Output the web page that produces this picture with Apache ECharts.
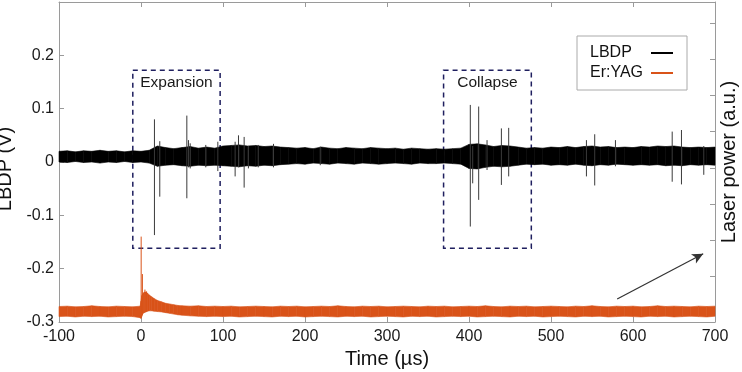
<!DOCTYPE html>
<html lang="en">
<head>
<meta charset="utf-8">
<title>LBDP / Er:YAG</title>
<script src="https://cdn.jsdelivr.net/npm/echarts@6/dist/echarts.min.js"></script>
<style>
html, body { margin: 0; padding: 0; background: #fff; }
#main { width: 742px; height: 372px; }
</style>
</head>
<body>
<div id="main"></div>
<script>
// LBDP noise band (V), upper / lower edge every 10 us
var lbdpTime = [-100,-90,-80,-70,-60,-50,-40,-30,-20,-10,0,10,20,30,40,50,60,70,80,90,
  100,110,120,130,140,150,160,170,180,190,200,210,220,230,240,250,260,270,280,290,
  300,310,320,330,340,350,360,370,380,390,400,410,420,430,440,450,460,470,480,490,
  500,510,520,530,540,550,560,570,580,590,600,610,620,630,640,650,660,670,680,690,700];
var lbdpHigh = [0.020,0.021,0.019,0.021,0.020,0.022,0.020,0.021,0.019,0.021,0.020,0.022,0.030,0.027,0.025,0.027,0.029,0.026,0.028,0.026,
  0.030,0.031,0.032,0.030,0.031,0.029,0.030,0.028,0.027,0.026,0.027,0.025,0.028,0.026,0.025,0.027,0.026,0.025,0.027,0.026,
  0.025,0.026,0.024,0.026,0.025,0.024,0.025,0.024,0.025,0.026,0.033,0.034,0.032,0.029,0.031,0.030,0.028,0.026,0.027,0.026,
  0.028,0.027,0.029,0.027,0.029,0.030,0.028,0.029,0.027,0.028,0.027,0.029,0.028,0.030,0.029,0.030,0.028,0.027,0.028,0.027,0.028];
var lbdpLow = [0.000,-0.001,0.001,-0.001,0.000,-0.002,0.000,-0.001,0.001,-0.001,0.000,-0.002,-0.008,-0.006,-0.005,-0.007,-0.008,-0.006,-0.007,-0.006,
  -0.007,-0.008,-0.009,-0.007,-0.008,-0.006,-0.007,-0.005,-0.004,-0.003,-0.004,-0.002,-0.003,-0.004,-0.002,-0.003,-0.004,-0.002,-0.003,-0.004,
  -0.003,-0.002,-0.003,-0.004,-0.002,-0.003,-0.003,-0.002,-0.003,-0.004,-0.012,-0.013,-0.010,-0.008,-0.009,-0.008,-0.006,-0.004,-0.005,-0.004,
  -0.006,-0.005,-0.006,-0.004,-0.006,-0.007,-0.005,-0.006,-0.004,-0.005,-0.006,-0.005,-0.006,-0.005,-0.007,-0.006,-0.007,-0.005,-0.006,-0.005,-0.006];
// LBDP transients: [time, min, max]
var lbdpSpikes = [[16.4,-0.137,0.080],[22.9,-0.065,0.039],[55.9,-0.068,0.087],[57.9,-0.010,0.041],[60,-0.012,0.035],
  [79,-0.010,0.032],[93.7,-0.017,0.038],[114.8,-0.027,0.038],[118.9,-0.010,0.050],[125.8,-0.048,0.047],
  [131,-0.012,0.030],[143,-0.010,0.032],[161.6,-0.010,0.034],[218.6,-0.006,0.029],[401.6,-0.121,0.107],
  [404.5,-0.040,0.030],[411.8,-0.071,0.104],[422,-0.015,0.041],[439.5,-0.043,0.063],[448.4,-0.027,0.064],
  [543.2,-0.027,0.041],[553.3,-0.044,0.052],[578.6,-0.008,0.041],[647.8,-0.037,0.057],[659.1,-0.042,0.060],
  [686.3,-0.024,0.030]];

// Er:YAG laser power band (a.u.)
var erTime = [-100,-90,-80,-70,-60,-50,-40,-30,-20,-10,-1,0,1,2,3,4,6,8,10,13,16,20,25,30,35,40,45,50,
  60,70,80,90,100,110,120,130,140,150,160,170,180,190,200,210,220,230,240,250,260,270,280,290,
  300,310,320,330,340,350,360,370,380,390,400,410,420,430,440,450,460,470,480,490,
  500,510,520,530,540,550,560,570,580,590,600,610,620,630,640,650,660,670,680,690,700];
var erHigh = [0.15,0.16,0.14,0.15,0.17,0.15,0.14,0.16,0.15,0.14,
  0.16,0.30,0.45,0.50,0.52,0.55,0.55,0.52,
  0.47,0.42,0.37,0.32,0.28,0.24,0.22,0.20,0.18,0.17,
  0.16,0.17,0.15,0.16,0.15,0.16,0.14,0.15,0.16,0.15,
  0.14,0.16,0.15,0.16,0.14,0.15,0.16,0.15,0.17,0.15,
  0.14,0.16,0.15,0.16,0.14,0.15,0.16,0.15,0.14,0.16,
  0.15,0.16,0.14,0.15,0.16,0.15,0.17,0.15,0.14,0.16,
  0.15,0.16,0.14,0.15,0.16,0.15,0.14,0.16,0.15,0.17,
  0.15,0.14,0.16,0.15,0.16,0.14,0.15,0.17,0.15,0.16,
  0.15,0.14,0.16,0.15,0.16];
var erLow = [-0.13,-0.12,-0.14,-0.12,-0.13,-0.12,-0.14,-0.13,-0.12,-0.13,
  -0.16,-0.18,-0.12,-0.06,-0.03,-0.02,0.00,0.02,
  0.03,0.03,0.02,0.01,0.00,-0.02,-0.04,-0.06,-0.08,-0.09,
  -0.11,-0.12,-0.13,-0.12,-0.13,-0.12,-0.14,-0.13,-0.12,-0.13,
  -0.14,-0.12,-0.13,-0.12,-0.14,-0.13,-0.12,-0.13,-0.14,-0.12,
  -0.13,-0.12,-0.14,-0.13,-0.12,-0.13,-0.14,-0.12,-0.13,-0.12,
  -0.14,-0.13,-0.12,-0.13,-0.12,-0.14,-0.13,-0.12,-0.13,-0.14,
  -0.12,-0.13,-0.12,-0.14,-0.13,-0.12,-0.13,-0.14,-0.12,-0.13,
  -0.12,-0.14,-0.13,-0.12,-0.13,-0.14,-0.12,-0.13,-0.12,-0.14,
  -0.13,-0.12,-0.13,-0.14,-0.12];
var erSpikes = [[0.2,-0.16,2.09],[1.7,-0.08,1.05],[4.8,0.00,0.62],[6.8,0.02,0.57]];

// right axis tick positions (a.u.)
var powerTicks = [0,1,2,3,4,5,6,7,8];

// annotation boxes: [name, t0, t1, vTop, vBottom]
var boxes = [['Expansion',-10,96.5,0.172,-0.1615],['Collapse',369,476,0.172,-0.1615]];
var arrowFrom = [580.7,-0.257];
var arrowTo = [685.6,-0.172];

var BLACK = '#000000';
var ORANGE = '#d95319';
var AXIS = '#9a9a9a';

// one row per band segment: [t0, lo0, hi0, t1, lo1, hi1]
function bandRows(t, lo, hi) {
  var out = [];
  for (var i = 0; i < t.length - 1; i++) {
    out.push([t[i], lo[i], hi[i], t[i + 1], lo[i + 1], hi[i + 1]]);
  }
  return out;
}
function bandItem(color) {
  return function (params, api) {
    var a = api.coord([api.value(0), api.value(2)]);
    var b = api.coord([api.value(3), api.value(5)]);
    var c = api.coord([api.value(3), api.value(4)]);
    var d = api.coord([api.value(0), api.value(1)]);
    return {
      type: 'polygon',
      shape: { points: [a, b, c, d] },
      style: { fill: color, stroke: color, lineWidth: 0.6 }
    };
  };
}
function spikeItem(color) {
  return function (params, api) {
    var a = api.coord([api.value(0), api.value(1)]);
    var b = api.coord([api.value(0), api.value(2)]);
    return {
      type: 'line',
      shape: { x1: a[0], y1: a[1], x2: b[0], y2: b[1] },
      style: { stroke: color, lineWidth: 1 }
    };
  };
}

var myChart = echarts.init(document.getElementById('main'), null, { renderer: 'canvas' });

var option = {
  animation: false,
  backgroundColor: '#fff',
  textStyle: { fontFamily: 'Liberation Sans, Arial, sans-serif' },
  grid: { left: 59, right: 27, top: 2, bottom: 50, containLabel: false, outerBoundsMode: 'none' },
  legend: {
    data: ['LBDP', 'Er:YAG'],
    orient: 'vertical',
    align: 'right',
    left: 577,
    top: 36,
    padding: [7, 14, 7, 13],
    itemGap: 0,
    itemWidth: 22,
    itemHeight: 2,
    icon: 'rect',
    borderColor: '#aaa',
    borderWidth: 1,
    backgroundColor: '#fff',
    selectedMode: false,
    formatter: function (name) { return '{a|' + name + '}'; },
    textStyle: {
      fontSize: 16, color: '#111', lineHeight: 20,
      rich: { a: { fontSize: 16, color: '#111', width: 56, align: 'left', lineHeight: 20 } }
    }
  },
  xAxis: [{
    type: 'value', min: -100, max: 700, interval: 100,
    name: 'Time (\u00b5s)', nameLocation: 'middle', nameGap: 26,
    nameTextStyle: { fontSize: 20, color: '#111' },
    axisLine: { show: true, onZero: false, lineStyle: { color: AXIS } },
    axisTick: { show: true, inside: true, length: 5, lineStyle: { color: AXIS } },
    axisLabel: { fontSize: 16, color: '#1a1a1a', margin: 7 },
    splitLine: { show: false }
  }, {
    type: 'value', min: -100, max: 700, interval: 100, position: 'top',
    axisLine: { show: true, onZero: false, lineStyle: { color: AXIS } },
    axisTick: { show: true, inside: true, length: 5, lineStyle: { color: AXIS } },
    axisLabel: { show: false },
    splitLine: { show: false }
  }],
  yAxis: [{
    type: 'value', min: -0.3, max: 0.3, interval: 0.1,
    name: 'LBDP (V)', nameLocation: 'middle', nameGap: 35,
    nameTextStyle: { fontSize: 20, color: '#111', padding: [0, 14, 0, 0] },
    axisLine: { show: true, onZero: false, lineStyle: { color: AXIS } },
    axisTick: { show: true, inside: true, length: 5, lineStyle: { color: AXIS } },
    axisLabel: { fontSize: 16, color: '#1a1a1a', margin: 5, showMaxLabel: false,
      formatter: function (v) { return String(Math.round(v * 10) / 10); } },
    splitLine: { show: false }
  }, {
    type: 'value', min: -0.28, max: 8.6, position: 'right',
    name: 'Laser power (a.u.)', nameLocation: 'middle', nameGap: 4,
    nameTextStyle: { fontSize: 20, color: '#111' },
    axisLine: { show: true, onZero: false, lineStyle: { color: AXIS } },
    axisTick: { show: true, inside: true, length: 5, customValues: powerTicks, lineStyle: { color: AXIS } },
    axisLabel: { show: false },
    splitLine: { show: false }
  }],
  series: [
    {
      name: 'Er:YAG', type: 'custom', yAxisIndex: 1, silent: true,
      itemStyle: { color: ORANGE },
      encode: { x: [0, 3], y: [1, 2, 4, 5] },
      data: bandRows(erTime, erLow, erHigh), renderItem: bandItem(ORANGE)
    },
    {
      name: 'erSpikes', type: 'custom', yAxisIndex: 1, silent: true,
      encode: { x: 0, y: [1, 2] }, data: erSpikes, renderItem: spikeItem(ORANGE)
    },
    {
      name: 'LBDP', type: 'custom', silent: true,
      itemStyle: { color: BLACK },
      encode: { x: [0, 3], y: [1, 2, 4, 5] },
      data: bandRows(lbdpTime, lbdpLow, lbdpHigh), renderItem: bandItem(BLACK),
      markArea: {
        silent: true,
        itemStyle: { color: 'rgba(0,0,0,0)', borderColor: '#1f1f5f', borderWidth: 1.5, borderType: [5, 4] },
        label: { show: true, position: 'insideTop', distance: 5, fontSize: 15.5, color: '#1a1a1a' },
        data: boxes.map(function (b) {
          return [{ name: b[0], xAxis: b[1], yAxis: b[3] }, { xAxis: b[2], yAxis: b[4] }];
        })
      },
      markLine: {
        silent: true,
        symbol: ['none', 'arrow'],
        symbolSize: [8, 11],
        label: { show: false },
        lineStyle: { color: '#333', width: 1.2, type: 'solid' },
        data: [[{ coord: arrowFrom }, { coord: arrowTo }]]
      }
    },
    {
      name: 'lbdpSpikes', type: 'custom', silent: true,
      encode: { x: 0, y: [1, 2] }, data: lbdpSpikes, renderItem: spikeItem('#3a3a3a')
    }
  ]
};

myChart.setOption(option);
</script>
</body>
</html>
